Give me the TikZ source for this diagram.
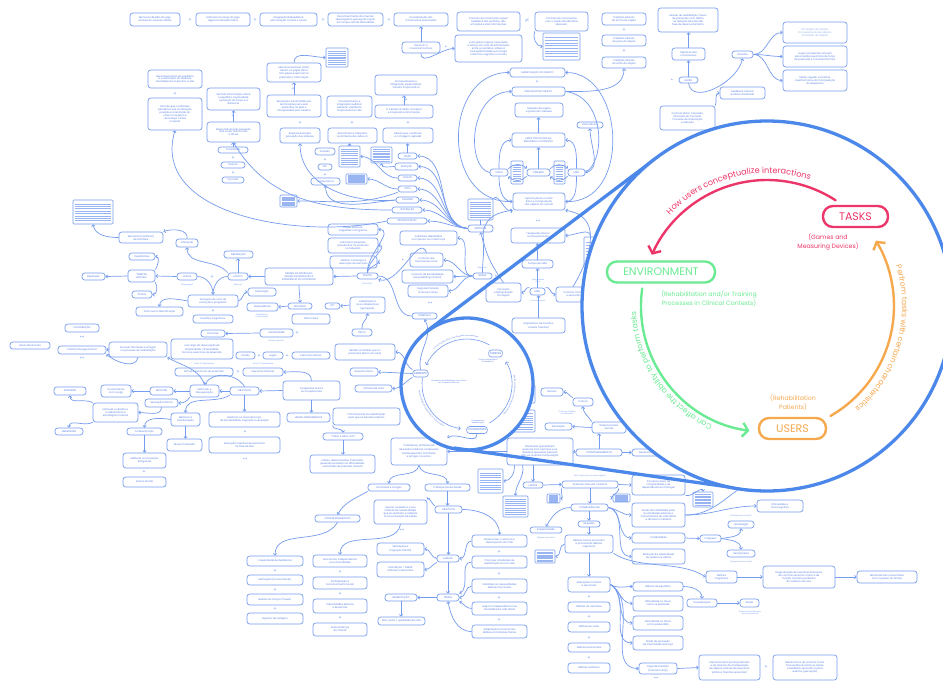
\documentclass[tikz,border=0pt]{standalone}
\usepackage{fontspec}
\setmainfont{Poppins}
\usetikzlibrary{arrows.meta,calc,decorations.text}

\definecolor{mmline}{RGB}{118,156,238}
\definecolor{mmtext}{RGB}{84,124,226}
\definecolor{lensblue}{RGB}{76,136,234}
\definecolor{taskpink}{RGB}{236,54,106}
\definecolor{envgreen}{RGB}{106,234,146}
\definecolor{userorange}{RGB}{246,168,78}

\tikzset{
  bx/.style={draw=mmline,line width=0.7pt,rounded corners=2.8pt,fill=white,
    inner sep=0.4pt,align=center,text=mmtext,font=\fontsize{2.5}{2.95}\selectfont},
  docbox/.style={draw=mmline,line width=0.6pt,rounded corners=1pt,fill=white,inner sep=0pt,
    path picture={\foreach \k in {0.16,0.26,0.36,0.46,0.56,0.66,0.76,0.86}{
      \draw[mmline!75,line width=0.35pt]
        ($(path picture bounding box.north west)!\k!(path picture bounding box.south west)+(1.6pt,0)$) --
        ($(path picture bounding box.north east)!\k!(path picture bounding box.south east)+(-1.6pt,0)$);}}},
  plus/.style={text=mmline,font=\fontsize{5}{5}\selectfont,inner sep=0pt},
  anno/.style={text=mmline,align=center,font=\fontsize{1.9}{2.3}\selectfont,inner sep=0pt},
  ln/.style={draw=mmline,line width=0.7pt},
  ar/.style={ln,-{Straight Barb[length=1.7pt,width=3.4pt]}},
  lens/.style={draw=lensblue,line width=3.3pt},
  keybox/.style={draw,rounded corners=10pt,line width=2.4pt,fill=white,minimum height=21pt,
    font=\fontsize{11}{11}\selectfont,inner sep=0pt},
  keyarc/.style={line width=2.4pt,line cap=round,-{Straight Barb[length=5.5pt,width=14pt]}},
  keynote/.style={align=center,font=\fontsize{6.2}{8.6}\selectfont,inner sep=0pt},
  minibox/.style={draw=mmline,line width=0.6pt,rounded corners=3pt,fill=white,minimum height=7pt,
    inner sep=1.2pt,text=mmtext,font=\fontsize{2.8}{2.8}\selectfont},
  miniarc/.style={draw=mmline,line width=0.6pt,-{Straight Barb[length=1.8pt,width=4pt]}},
  mininote/.style={align=center,text=mmtext,font=\fontsize{1.8}{2.2}\selectfont,inner sep=0pt},
}

% box by its corners (x1,y1) (x2,y2), y measured downwards
\newcommand\mmB[6]{\node[bx,minimum width={#4pt-#2pt},minimum height={#5pt-#3pt}] (#1) at ({(#2+#4)/2},{-(#3+#5)/2}) {#6};}
\newcommand\mmD[5]{\node[docbox,minimum width={#4pt-#2pt},minimum height={#5pt-#3pt}] (#1) at ({(#2+#4)/2},{-(#3+#5)/2}) {};}
\newcounter{mmpc}
\newcommand\mmP[2]{\stepcounter{mmpc}\node[plus] (plus\arabic{mmpc}) at (#1,-#2) {+};}
\newcommand\mmS[2]{\stepcounter{mmpc}\node[plus,font=\fontsize{4.6}{4.6}\selectfont] (star\arabic{mmpc}) at (#1,-#2) {**};}
\newcommand\mmO[2]{\stepcounter{mmpc}\node[plus,font=\fontsize{4.6}{4.6}\selectfont] (star\arabic{mmpc}) at (#1,-#2) {*};}
\newcommand\mmA[3]{\stepcounter{mmpc}\node[anno] (note\arabic{mmpc}) at (#1,-#2) {#3};}

\begin{document}
\begin{tikzpicture}[x=1pt,y=1pt]
\path[use as bounding box,fill=white] (0,0) rectangle (943,-681);

% ---------------- top row ----------------
\mmB{t1}{130}{13}{180}{26}{Mensurar desafio do jogo\\através do sucesso obtido}
\mmB{t2}{196}{13}{250}{26}{Estimular ao longo do jogo\\alguma interação física}
\mmB{t3}{260}{13}{317}{26}{Integração Biofeedback:\\estimulação motora e visual}
\mmB{t4}{328}{13}{383}{26}{Reconhecimento do nível de\\desempenho que ajuste o grau\\em tempo real de dificuldade}
\mmB{t5}{394}{13}{448}{26}{Consideração dos\\movimentos executados}
\mmP{190}{20}\mmP{255}{20}\mmP{323}{20}\mmP{389}{20}
\mmB{r1}{402}{42}{440}{53}{Recorrer a\\mecanismos fixos}
\mmO{446}{48}
\mmB{jz}{455}{35}{522}{62}{Juízo prévio regular, reconexão\\e reforço em vias de estimulação\\entre os sentidos, reflexo a\\neuroplasticidade e prolonga\\o domínio cognitivo no futuro}
\mmB{cm1}{457}{12}{520}{31}{Controlo de movimento requer\\feedback dos sentidos, das\\emoções e das informações}
\node[plus] (neq) at (527,-20) {$\neq$};
\mmB{cm2}{535}{12}{588}{31}{Controlo de movimentos\\com o auxílio da Memória\\Muscular}
\mmD{d1}{543}{33}{580}{60}
\mmB{mo}{510}{68}{565}{77}{MANIPULAÇÃO DO OBJETO}
\mmP{537}{82}
\mmB{po}{512}{87}{565}{96}{PERCEÇÃO DO OBJETO}
\mmB{dr}{515}{103}{563}{117}{Deteção de região\\e potencial interesse}
\mmB{pr1}{602}{13}{646}{25}{Predição através\\da forma do objeto}
\mmP{624}{30}
\mmB{pr2}{602}{35}{646}{46}{Predição através\\do peso do objeto}
\mmP{624}{51}
\mmB{pr3}{602}{57}{646}{68}{Predição através\\do atrito do objeto}
\mmB{se}{658}{8}{718}{32}{Sessão de reabilitação: fluxos\\de pacientes com défice\\na deteção de intenção\\fase de desenvolvimento}
\mmB{ob}{672}{48}{705}{60}{Objetivos dos\\movimentos}
\mmB{gu}{679}{77}{698}{83}{GUIÃO}
\mmO{672}{81}
\mmB{fi}{732}{51}{753}{58}{Filosofia}
\mmB{fb}{720}{87}{765}{99}{Feedback Visual e\\Auditivo Acelerado}
\mmB{f1}{783}{22}{847}{43}{\color{mmline!80}Simulação de objetos\\\color{mmline!80}Processamento de objetos\\\color{mmline!80}Avaliação de objetos}
\mmB{f2}{783}{46}{847}{67}{Jogos (ambientes virtuais)\\para realizar exercícios de força\\de preensão e movimentos finos}
\mmB{f3}{783}{70}{847}{91}{Medir, registar e analisar\\a performance da manipulação\\do dispositivo}
\mmB{cmo}{660}{106}{715}{130}{Controlo Motor, Preensão,\\Interação do Contexto,\\Processo de Orientação\\e Atenção}
\mmB{dom}{577}{122}{603}{128}{Dominância}
\mmB{fp}{512}{133}{565}{147}{FASES PSICOLÓGICAS,\\SENSORIAL E COGNITIVA}
\mmB{vi}{490}{169}{508}{176}{VISÃO}
\mmB{ce}{527}{169}{550}{176}{CÉREBRO}
\mmB{ma}{568}{169}{585}{176}{MÃO}
\mmD{d2}{511}{161}{523}{184}
\mmD{d3}{554}{161}{565}{184}
\mmB{ex}{513}{193}{565}{210}{Exploração do mundo\\físico e manipulação\\dos objetos do mundo}
\mmS{538}{222}
\mmB{tf}{511}{228}{565}{243}{Terapeutas Físicos\\ou Ocupacionais}
\mmB{tv}{522}{260}{553}{268}{Tempo de Vida}
\mmB{ma2}{530}{288}{545}{295}{MÃO}
\mmA{538}{281}{(Motricidade\\Fina)}
\mmA{538}{301}{(Coordenação)}
\mmB{pm}{486}{283}{521}{302}{Perceção\\e Manipulação\\do Objeto}
\mmB{cs}{556}{287}{590}{302}{Controlo motor\\e sensorial}
\mmB{dm}{512}{318}{565}{333}{Dispositivos de mundos\\virtuais (tarefas)}
\mmD{d4}{584}{237}{597}{268}

% ---------------- upper left cluster ----------------
\mmB{m1}{267}{63}{321}{82}{Mecanorrecetores (tato)\\atuam no papel tátil e\\têm papel essencial na\\preensão / informação}
\mmP{293}{89}
\mmB{m2}{267}{95}{321}{117}{Sensações transmitidas por\\terminações nervosas\\existentes na pele e\\interpretadas pelo cérebro}
\mmD{d5}{326}{48}{348}{67}
\mmB{m3}{327}{96}{372}{117}{Processamento e\\integração auditiva:\\Aferente, Vestibular,\\Propriocetiva e Tato}
\mmB{m4}{375}{75}{437}{95}{Processamento e\\integração visual efetiva:\\Visual e Propriocetiva}
\mmP{406}{100}
\mmB{m5}{375}{105}{433}{118}{O Cérebro analisa, compara\\e interpreta a informação}
\mmB{e1}{148}{70}{202}{88}{Reconhecimento do equilíbrio\\e a realização de diversas\\atividades do nosso dia-a-dia}
\mmP{175}{94}
\mmB{e2}{148}{98}{202}{130}{Permite que o indivíduo\\perceba a sua localização,\\posição e orientação do\\corpo no espaço e\\reconheça o fluxo\\corporal}
\mmB{e3}{207}{88}{260}{110}{Sentido informações sobre\\o equilíbrio, a gravidade,\\a posição do corpo e a\\distância}
\mmP{233}{116}
\mmB{e4}{207}{122}{260}{142}{Responsável pela perceção\\das cores, das formas\\e da luz}
\mmB{c1}{218}{147}{248}{153}{Tonalidade}
\mmP{233}{158}
\mmB{c2}{221}{162}{245}{168}{Textura}
\mmP{233}{173}
\mmB{c3}{222}{177}{244}{183}{Formato}
\mmB{s1}{280}{128}{320}{143}{Responsável pela\\perceção dos sabores}
\mmB{pe}{315}{148}{335}{155}{Pressão}
\mmP{325}{160}
\mmB{dor}{318}{164}{332}{170}{Dor}
\mmP{325}{175}
\mmB{tem}{311}{178}{340}{185}{Temperatura}
\mmB{s2}{328}{128}{377}{143}{Reconhece e interpreta\\os atributos de cada um}
\mmB{s3}{383}{128}{433}{143}{Deteta que o estímulo\\é a imagem captada}
\mmP{300}{123}\mmP{352}{123}\mmP{408}{123}
\mmD{d6}{339}{146}{360}{167}
\mmD{d7}{346}{174}{367}{184}
\mmD{d8}{371}{147}{392}{163}
\mmB{sv}{398}{153}{417}{159}{VISÃO}
\mmB{sa}{395}{163}{418}{170}{AUDIÇÃO}
\mmB{so}{398}{175}{417}{181}{OLFATO}
\mmB{st}{398}{186}{417}{192}{TATO}
\mmB{sp}{396}{197}{419}{203}{PALADAR}
\mmB{sve}{392}{207}{422}{213}{VESTIBULAR}
\mmB{spr}{387}{218}{427}{224}{PROPRIOCETIVO}
\mmB{sen}{468}{225}{493}{232}{SENTIDOS}
\mmD{d9}{468}{199}{493}{220}
\mmD{d10}{280}{195}{297}{207}

% ---------------- middle band ----------------
\mmB{to1}{328}{224}{378}{235}{Toque bilateral:\\sugestões com gestos}
\mmB{to2}{328}{238}{378}{253}{Estimula a preensão\\através dos movimentos\\no tabuleiro}
\mmB{to3}{330}{256}{377}{268}{Detetar a ameaça e\\execução de tremores}
\mmB{in1}{400}{231}{457}{245}{Indivíduos debilitados\\com pouca ou muita força}
\mmB{cf}{410}{253}{443}{267}{Controlo dos\\Movimentos Finos}
\mmO{403}{261}
\mmB{cg}{402}{270}{453}{283}{Controlo da Sensibilidade\\(Grip Stabling Control)}
\mmB{pg}{408}{285}{448}{297}{Pega de Precisão\\(Precision Grip)}
\mmS{430}{304}
\mmB{gr}{473}{273}{492}{279}{GRASP}
\mmA{482}{268}{(Agarrar)}
\mmO{496}{277}
\mmB{dg}{357}{273}{378}{279}{DIGITAL}
\mmA{367}{284}{(Ecrã tátil)}
\mmB{ds}{265}{268}{333}{285}{DESIGN DA INTERAÇÃO\\DESIGN DE INTERAÇÃO E\\EXPERIÊNCIA DO UTILIZADOR}
\mmB{inc}{288}{303}{312}{309}{INCLUSÃO}
\mmB{att}{325}{303}{340}{309}{ATT}
\mmB{ad}{350}{297}{385}{313}{Adaptação a\\novos dispositivos\\(gerações)}
\mmB{itf}{412}{313}{437}{319}{INTERFACE}
\mmB{tfx}{292}{314}{330}{324}{Tátil e Físico}
\mmB{fis}{352}{329}{372}{336}{FÍSICO}

% ---------------- left cluster ----------------
\mmD{db}{73}{200}{113}{224}
\mmB{el}{119}{232}{163}{243}{Elementos (Gráficos)\\de Interface}
\mmB{iz}{176}{239}{198}{247}{Interação}
\mmB{ab}{224}{251}{253}{258}{ABSTRAÇÃO}
\mmB{lu}{228}{273}{248}{280}{LÚDICO}
\mmA{238}{285}{(Brincar)}
\mmB{jo}{177}{273}{197}{280}{JOGOS}
\mmA{187}{285}{(Videojogos)}
\mmP{212}{277}
\mmB{tl}{128}{270}{155}{282}{"TAREFAS\\LÚDICAS"}
\mmB{de}{129}{253}{155}{260}{Desafiantes}
\mmB{po2}{132}{291}{152}{298}{Pontos}
\mmB{re}{82}{273}{105}{280}{Repetição}
\mmB{pc}{188}{295}{238}{307}{Perceção do ciclo de\\evolução e progresso}
\mmP{213}{311}
\mmB{dc}{193}{315}{233}{323}{Desafios Cognitivos}
\mmB{pi}{136}{307}{183}{316}{Promover a identificação}
\mmB{mt}{248}{288}{276}{296}{Motivação}
\mmB{rd}{247}{303}{278}{311}{Redundância}
\mmA{262}{316}{(Feedback e\\confirmação)}
\mmB{co}{65}{324}{99}{332}{COOPERAÇÃO}
\mmS{82}{338}
\mmB{pa}{58}{346}{106}{354}{Partilha Intergeracional}
\mmS{82}{359}
\mmB{gm}{10}{342}{50}{349}{Gerar Movimento}
\mmB{ef}{109}{342}{167}{357}{Envolver familiares e amigos\\no processo de reabilitação}
\mmB{esc}{201}{330}{225}{337}{ESCOLHA}
\mmB{ca}{171}{339}{233}{359}{com algo de observação de\\simplicidade / diversidade,\\torna os exercícios de preensão}
\mmB{ve}{260}{329}{293}{337}{Versatilidade}
\mmA{276}{341}{(Várias opções)}
\mmP{297}{333}
\mmB{ct}{236}{352}{255}{359}{Cartas}
\mmP{259}{356}
\mmB{jg}{263}{352}{283}{359}{Jogos}
\mmP{287}{356}
\mmB{exf}{292}{352}{330}{359}{Exercícios Físicos}
\mmA{204}{364}{(Fase 1) Objetividade}
\mmA{263}{364}{(Fase 2) Objetividade}
\mmB{fe}{175}{368}{233}{376}{Fichas e exercícios de preensão}
\mmP{238}{372}
\mmB{em}{243}{368}{283}{376}{Exercícios Motores}
\mmB{ap}{54}{387}{86}{395}{APRENDER}
\mmB{ej}{101}{385}{131}{397}{Envolvimento\\com o jogo}
\mmB{mv}{150}{387}{173}{395}{MOTIVAR}
\mmB{er}{190}{385}{219}{397}{Estimular e\\Recuperação}
\mmB{obj}{230}{387}{259}{395}{OBJETIVOS}
\mmB{tfi}{283}{381}{340}{400}{Terapeutas Físicos\\ou Ocupacionais}
\mmB{sm}{145}{399}{178}{407}{Sensação Motora}
\mmB{es}{93}{403}{138}{422}{Estimula o cérebro e\\o relaxamento e\\estratégias motoras}
\mmB{mm}{55}{428}{83}{435}{MEMORIZAR}
\mmB{mc}{171}{413}{200}{426}{Melhorar a\\coordenação}
\mmB{mvc}{167}{439}{202}{451}{Mover Conteúdo}
\mmB{fo}{127}{428}{162}{435}{Fortalecimento}
\mmB{mcs}{123}{453}{166}{468}{Melhorar a Circulação\\Sanguínea}
\mmP{144}{472}
\mmB{ea}{123}{477}{166}{487}{Evita a Atrofia}
\mmB{mn}{209}{412}{280}{427}{Melhorar os níveis de força,\\de sensibilidade, cognição e sensação}
\mmP{245}{432}
\mmB{ei}{209}{437}{280}{453}{Execução intensiva de exercícios\\na fase de alta}
\mmS{245}{460}
\mmB{lf}{287}{413}{330}{422}{LINHAS FUNDAMENTAIS}
\mmB{pr}{333}{408}{400}{425}{Primeira parte da reabilitação\\pelo que os estudos referem}
\mmB{tl2}{323}{433}{363}{440}{"Tratar e Lidar com"}
\mmB{fd}{310}{455}{375}{473}{Falhas, desenvolvidas, frustradas,\\pessoas percebem as dificuldades\\nas tarefas de precisão manual}
\mmB{rt}{335}{344}{395}{360}{Relatar as tarefas que os\\pacientes fazem em casa}
\mmB{dfi}{350}{368}{378}{376}{Desenho Físico}
\mmB{vv}{355}{385}{392}{392}{Variável de Vida}

% ---------------- bottom left column ----------------
\mmB{cr}{247}{556}{303}{566}{Capacidade de Resiliência}
\mmP{275}{571}
\mmB{mo2}{247}{575}{303}{585}{Motivação (Envolvimento)}
\mmP{275}{590}
\mmB{gt}{247}{594}{303}{605}{Gestão do Tempo (Pausa)}
\mmP{275}{609}
\mmB{sut}{247}{613}{303}{624}{Suporte Tecnológico}

% ---------------- bottom centre ----------------
\mmB{cp}{391}{438}{447}{465}{Cuidadores, profissionais\\de saúde (médicos, terapeutas,\\fisioterapeutas), familiares\\e amigos no centro}
\mmB{fa}{368}{484}{410}{491}{Familiares e Amigos}
\mmB{ps}{425}{484}{470}{491}{Profissionais de Saúde}
\mmB{cn}{315}{515}{360}{522}{CONSTRANGIMENTOS}
\mmB{aj}{374}{500}{427}{524}{Ajustar a sessão e o seu\\método às necessidades\\que se verificam e adaptar\\à nova situação de saúde}
\mmS{402}{531}
\mmB{ob2}{435}{506}{462}{513}{OBJETIVOS}
\mmB{au}{313}{555}{367}{567}{Autonomia, Independência\\e Funcionalidade}
\mmP{340}{572}
\mmB{pf}{313}{577}{367}{589}{Participação e\\Funcionamento Social}
\mmP{340}{594}
\mmB{cms}{313}{599}{367}{613}{Capacidades Motoras\\e Sensoriais}
\mmP{340}{618}
\mmB{acl}{313}{623}{367}{636}{Autoconfiança\\do Cliente}
\mmB{sc}{377}{543}{424}{555}{Sensações e\\Cognição (SPADI)}
\mmB{od}{377}{562}{424}{577}{Orientação = DMUS:\\Motores e Sensoriais}
\mmB{an}{437}{555}{459}{562}{ANÁLISE}
\mmB{tr}{437}{594}{459}{601}{TREINO}
\mmB{rb}{385}{594}{417}{601}{REABILITAÇÃO}
\mmB{bq}{378}{617}{425}{625}{Bem-estar / qualidade de vida}
\mmB{ds1}{472}{535}{527}{547}{Desenvolver o alcance e\\desempenho da mão}
\mmP{499}{552}
\mmB{ds2}{472}{556}{527}{568}{Promover atividades de\\reabilitação à nova vida}
\mmP{499}{574}
\mmB{ds3}{472}{579}{527}{593}{Satisfazer as necessidades\\básicas funcionais}
\mmP{499}{598}
\mmB{ds4}{472}{602}{527}{615}{Adquirir independência nas\\atividades da vida diária}
\mmP{499}{620}
\mmB{ds5}{472}{625}{527}{638}{Adaptação funcional aos\\défices e limitações físicas}

% ---------------- bottom right ----------------
\mmB{al}{507}{438}{573}{465}{Alterações que definem\\pessoas com tremores e os\\desafios que estas pessoas\\têm ao nível da manipulação}
\mmB{cn2}{576}{449}{622}{456}{CONSTRANGIMENTOS}
\mmB{dv}{632}{449}{668}{456}{Desenvolvimento}
\mmB{dts}{592}{422}{626}{433}{Determinantes\\Sociais}
\mmB{edu}{545}{423}{572}{430}{Educação}
\mmB{cul}{573}{398}{593}{406}{Cultura}
\mmB{gen}{541}{388}{563}{396}{Género}
\mmA{567}{413}{(Crenças, hábitos\\e costumes)}
\mmD{d11}{510}{385}{535}{403}
\mmD{d12}{510}{410}{535}{432}
\mmB{les}{523}{482}{543}{488}{LESÕES}
\mmB{avc}{562}{481}{618}{488}{Acidente Vascular Cerebral}
\mmA{590}{476}{(AVC isquémico ou hemorrágico)}
\mmB{pcx}{632}{475}{685}{495}{Principal causa de\\incapacidade e de\\dependência em Portugal}
\mmD{d13}{478}{469}{503}{493}
\mmD{d14}{503}{496}{528}{517}
\mmD{d15}{547}{494}{560}{503}
\mmD{d16}{613}{494}{630}{502}
\mmD{d17}{693}{492}{713}{507}
\mmB{csq}{571}{504}{608}{511}{CONSEQUÊNCIAS}
\mmB{esp}{530}{527}{562}{533}{Espasticidade}
\mmA{546}{538}{(Rigidez muscular)}
\mmB{seq}{578}{521}{600}{527}{Sequelas}
\mmB{dfs}{565}{535}{613}{553}{Défices Físicos provocam\\e provocarão défices\\cognitivos}
\mmD{d18}{535}{550}{555}{563}
\mmB{am}{568}{577}{610}{592}{Alterações motoras\\e sensoriais}
\mmP{589}{597}
\mmB{dme}{568}{602}{610}{612}{Défices de memória}
\mmP{589}{617}
\mmB{dvi}{568}{622}{610}{632}{Défices de visão}
\mmP{589}{638}
\mmB{dem}{568}{643}{610}{652}{Défices emocionais}
\mmP{589}{658}
\mmB{dau}{568}{663}{610}{673}{Défices auditivos}
\mmB{ph}{632}{503}{685}{527}{Perda de habilidades para\\as atividades básicas e\\instrumentais da vida diária\\e de fazer o trabalho}
\mmB{ins}{632}{533}{685}{543}{Instabilidade}
\mmB{fr}{700}{535}{721}{542}{Fraqueza}
\mmB{hp}{728}{521}{754}{528}{Hemiplegia}
\mmA{741}{516}{(Paralisia de um lado)}
\mmB{hs}{727}{550}{755}{557}{Hemiparesia}
\mmA{741}{562}{(Fraqueza de um lado)}
\mmB{rc}{632}{549}{685}{564}{Redução da capacidade\\de realizar os afetos}
\mmB{dd}{757}{500}{803}{512}{Dificuldade a\\nível cognitivo}
\mmB{dco}{706}{571}{737}{583}{Défices\\Cognitivos}
\mmB{dg2}{763}{566}{835}{588}{Degeneração de neurotransmissores\\de controlo sensório-motor e de\\função mental e periférica\\do sistema nervoso}
\mmB{mem}{857}{571}{917}{583}{Memórias são consumidas\\com o passar do tempo}
\mmB{deq}{633}{582}{683}{591}{Défices de equilíbrio}
\mmB{dt1}{633}{596}{683}{611}{Dificuldade no tónus\\como se pretende}
\mmB{dt2}{633}{616}{683}{630}{Dificuldade no tónus\\como pretendido}
\mmB{pp}{633}{636}{683}{650}{Perda de perceção\\da intensidade da força}
\mmB{coo}{687}{599}{717}{607}{Coordenação}
\mmB{ata}{740}{599}{759}{607}{Ataxia}
\mmA{750}{613}{(Falta de coordenação\\dos movimentos)}
\mmB{pgp}{639}{663}{677}{674}{Pega de Precisão\\(Precision Grip)}
\mmS{656}{679}
\mmB{ef2}{699}{655}{760}{680}{Exercícios de força de preensão\\e de alcance de manipulação\\de objetos através de exercícios\\práticos (tarefas sensoriais)}
\mmP{766}{667}
\mmB{mc2}{773}{655}{837}{680}{Mecanismos de controlo motor\\favorecidos durante as ações\\e feedback sensorial visual e\\auditivo (perceção)}

% ---------------- connectors ----------------
\draw[ar] (r1.north) -- (t5.south);
\draw[ar] (r1.south) to[out=-90,in=180] (jz.west);
\draw[ar] (cm2.south west) to[out=-110,in=180] (d1.west);
\draw[ar] (po.east) to[out=0,in=-90] (pr3.south);
\draw[ar] (ob.north) -- (ob.north |- se.south);
\draw[ar] (gu.north) -- (gu.north |- ob.south);
\draw[ar] (gu.south) to[out=-80,in=-100] (fi.south);
\draw[ar] (cmo.north east) to[out=70,in=180] (fb.west);
\foreach \n in {f1,f2,f3} \draw[ar] (fi.east) to[out=0,in=180] (\n.west);
\draw[ar] (ce.north) -- (ce.north |- fp.south);
\draw[ar] (fp.north) -- (fp.north |- dr.south);
\draw[ar] (vi.north) to[out=90,in=180] (fp.west);
\draw[ar] (ma.north) to[out=90,in=0] (fp.east);
\draw[ar] (ma.east) to[out=10,in=-90] (dom.south);
\draw[ar] (vi.north east) to[out=50,in=130] (ce.north west);
\draw[ar] (ce.south west) to[out=-130,in=-50] (vi.south east);
\draw[ar] (ce.north east) to[out=50,in=130] (ma.north west);
\draw[ar] (ma.south west) to[out=-130,in=-50] (ce.south east);
\draw[ar] (vi.south) to[out=-90,in=180] (ex.west);
\draw[ar] (ma.south) to[out=-90,in=0] (ex.east);
\draw[ar] (ex.west) .. controls (440,-205) and (442,-72) .. (mo.west);
\draw[ar] (vi.west) .. controls (466,-168) and (468,-92) .. (po.west);
\draw[ar] (ex.east) .. controls (632,-205) and (625,-72) .. (mo.east);
\draw[ar] (po.east) .. controls (605,-96) and (606,-160) .. (ma.east);
\draw[ar] (tv.north) -- (tv.north |- tf.south);
\draw[ar] (ma2.north) -- (ma2.north |- tv.south);
\draw[ar] (ma2.north west) to[out=150,in=0] (pm.east);
\draw[ar] (ma2.north east) to[out=30,in=180] (cs.west);
\draw[ar] (dm.north) -- (dm.north |- ma2.south);
\draw[ar] (pm.north) .. controls (480,-250) and (470,-215) .. (ex.south west);
\draw[ar] (cs.north) .. controls (595,-250) and (600,-215) .. (ex.south east);
\draw[ar] (d4.north) to[out=90,in=0] (tf.east);
\draw[ar] (m1.north) to[out=90,in=180] (d5.west);
\draw[ar] (m2.north) -- (m2.north |- m1.south);
\draw[ar] (m5.north) -- (m5.north |- m4.south);
\foreach \n in {sv,sa,so,st,sp,sve,spr} \draw[ar] (sen.west) to[out=175,in=0] (\n.east);
\draw[ln] (sen.north) -- (sen.north |- d9.south);
\draw[ar] (d9.north east) to[out=50,in=200] (ex.south west);
\draw[ar] (sv.north) -- (sv.north |- s3.south);
\draw[ar] (sa.west) to[out=180,in=-90] (d8.south);
\draw[ar] (so.west) to[out=180,in=0] (d6.east);
\draw[ar] (st.west) to[out=180,in=0] (d7.east);
\draw[ar] (sp.west) to[out=185,in=-90] (s1.south);
\draw[ar] (sp.west) to[out=185,in=-90] (tem.south);
\draw[ar] (d6.north) -- (d6.north |- s2.south);
\draw[ar] (sve.west) to[out=180,in=-60] (e4.south);
\draw[ar] (spr.west) .. controls (300,-240) and (150,-215) .. (e2.south);
\draw[ar] (st.south west) to[out=200,in=0] (d10.east);
\draw[ar] (e4.north) -- (e4.north |- e3.south);
\draw[ar] (c1.north) -- (c1.north |- e4.south);
\foreach \n in {in1,cf,cg,pg} \draw[ar] (gr.west) to[out=180,in=0] (\n.east);
\draw[ar] (gr.north) to[out=90,in=-70] (sen.south);
\draw[ar] (dg.west) -- (ds.east);
\foreach \n in {to1,to2,to3} \draw[ar] (dg.north) to[out=95,in=0] (\n.east);
\draw[ln] (dg.east) to[out=0,in=180] (itf.west);
\draw[ar] (ad.west) -- (att.east);
\draw[ar] (ds.south) to[out=-90,in=90] (inc.north);
\draw[ar] (fis.north) to[out=100,in=-90] (ad.south);
\draw[ar] (ds.west) -- (lu.east);
\draw[ar] (lu.north) -- (lu.north |- ab.south);
\draw[ar] (jo.west) -- (tl.east);
\draw[ar] (tl.north east) to[out=60,in=0] (de.east);
\draw[ar] (tl.south east) to[out=-60,in=0] (po2.east);
\draw[ar] (tl.west) -- (re.east);
\draw[ar] (jo.east) to[out=0,in=90] (pc.north);
\draw[ln] (lu.west) to[out=180,in=90] (pc.north);
\draw[ar] (pc.west) to[out=170,in=90] (pi.north);
\draw[ar] (pc.east) to[out=10,in=180] (mt.west);
\draw[ar] (lu.north west) to[out=130,in=-90] (iz.south);
\draw[ar] (iz.north) to[out=80,in=20] (el.north east);
\draw[ar] (el.west) to[out=180,in=-80] (db.south);
\draw[ar] (inc.west) -- (rd.east);
\draw[ar] (ve.west) -- (esc.east);
\draw[ar] (ef.west) -- (pa.east);
\draw[ar] (ef.south) to[out=-100,in=-40] (pa.south east);
\draw[ar] (er.north) to[out=110,in=-30] (ef.south east);
\draw[ar] (tfi.north) to[out=90,in=0] (em.east);
\draw[ar] (obj.north) to[out=120,in=60] (er.north);
\draw[ar] (er.west) -- (mv.east);
\draw[ar] (mv.west) -- (ej.east);
\draw[ar] (obj.west) -- (er.east);
\draw[ar] (tfi.west) -- (obj.east);
\draw[ar] (es.north west) to[out=150,in=-90] (ap.south);
\draw[ar] (es.south west) to[out=210,in=90] (mm.north);
\draw[ar] (sm.south) to[out=-90,in=0] (es.east);
\draw[ar] (er.south west) to[out=-120,in=0] (sm.east);
\draw[ar] (mc.west) to[out=170,in=90] (fo.north);
\draw[ar] (mc.south) -- (mc.south |- mvc.north);
\draw[ar] (fo.south) -- (fo.south |- mcs.north);
\draw[ar] (obj.south) -- (obj.south |- mn.north);
\draw[ar] (obj.south west) to[out=-150,in=90] (mc.north);
\draw[ar] (tfi.south) -- (tfi.south |- lf.north);
\draw[ar] (tl2.south) -- (tl2.south |- fd.north);
\draw[ar] (pr.south west) to[out=-110,in=90] (tl2.north);
\draw[ar] (cp.south) to[out=-100,in=90] (fa.north);
\draw[ar] (cp.south) to[out=-80,in=90] (ps.north);
\draw[ar] (ps.south) -- (ps.south |- ob2.north);
\draw[ar] (ob2.north west) to[out=150,in=60] (aj.north east);
\draw[ar] (ob2.south) -- (ob2.south |- an.north);
\draw[ar] (an.west) to[out=170,in=0] (sc.east);
\draw[ar] (an.south west) to[out=-150,in=0] (od.east);
\draw[ar] (an.south) -- (an.south |- tr.north);
\draw[ar] (tr.west) -- (rb.east);
\draw[ar] (rb.south) -- (rb.south |- bq.north);
\draw[ar] (ob2.east) to[out=0,in=90] (ds1.north);
\draw[ar] (ds1.west) to[out=180,in=0] (an.east);
\draw[ar] (ds2.west) to[out=180,in=30] (tr.north east);
\draw[ar] (ds3.west) to[out=180,in=0] (tr.east);
\draw[ar] (ds4.west) to[out=180,in=-30] (tr.south east);
\draw[ar] (ds5.west) to[out=180,in=-80] (tr.south);
\draw[ar] (aj.south) to[out=-100,in=90] (au.north);
\draw[ar] (fa.south west) to[out=-150,in=60] (cn.north);
\draw[ar] (cn.south) to[out=-120,in=90] (cr.north);
\draw[ar] (al.west) -- (cp.east);
\draw[ar] (al.east) -- (cn2.west);
\draw[ar] (cn2.north) -- (cn2.north |- dts.south);
\draw[ar] (dts.west) -- (edu.east);
\draw[ar] (dts.north west) to[out=120,in=-90] (cul.south);
\draw[ar] (cul.north west) to[out=150,in=0] (gen.east);
\draw[ar] (cn2.east) -- (dv.west);
\draw[ar] (les.north |- al.south) -- (les.north);
\draw[ar] ($(al.south west)+(8,0)$) to[out=-90,in=0] (d13.east);
\draw[ar] ($(al.south west)+(16,0)$) to[out=-80,in=90] (d14.north);
\draw[ar] (les.east) -- (avc.west);
\draw[ar] (avc.east) -- (pcx.west);
\draw[ar] (avc.south) -- (avc.south |- csq.north);
\draw[ar] (avc.south west) to[out=-120,in=0] (d15.east);
\draw[ar] (avc.south east) to[out=-60,in=180] (d16.west);
\draw[ar] (pcx.south east) to[out=-20,in=90] (d17.north);
\draw[ar] (csq.west) to[out=180,in=60] (esp.north);
\draw[ar] (seq.north |- csq.south) -- (seq.north);
\draw[ar] (seq.south) -- (seq.south |- dfs.north);
\draw[ar] (dfs.west) to[out=180,in=0] (d18.east);
\draw[ar] (dfs.south) -- (dfs.south |- am.north);
\foreach \n in {ph,ins,rc} \draw[ar] (csq.east) to[out=-10,in=180] (\n.west);
\draw[ar] (ph.east) to[out=0,in=180] (dd.west);
\coordinate (hidden) at (760,-478);
\draw[ar] (ph.east) to[out=0,in=-160] (hidden);
\draw[ar] (ins.east) -- (fr.west);
\draw[ar] (fr.east) to[out=10,in=-90] (hp.south);
\draw[ar] (fr.east) to[out=-10,in=90] (hs.north);
\draw[ar] (dfs.south east) .. controls (640,-570) and (680,-560) .. (dco.west);
\draw[ar] (dco.east) -- (dg2.west);
\draw[ar] (dg2.east) -- (mem.west);
\foreach \n in {deq,dt1,dt2,pp,pgp} \draw[ar] (am.east) to[out=-30,in=180] (\n.west);
\draw[ar] (deq.east) to[out=0,in=90] (coo.north);
\draw[ar] (coo.east) -- (ata.west);
\draw[ar] (pgp.east) -- (ef2.west);
\draw[ar] (cf.north) to[out=110,in=-20] (dg.south east);

% ---------------- small lens ----------------
\draw[draw=none,fill=white] (467,-384) circle[radius=66pt];
\begin{scope}[shift={(467,-384)}]
  \node[minibox] (mtar) at (28.5,30.5) {TAREFAS};
  \node[minibox] (mamb) at (-46.5,10.5) {AMBIENTE};
  \node[minibox] (mutil) at (10,-46) {UTILIZADORES};
  \node[mininote] (mntar) at (21,23) {(Jogos e Dispositivos\\de Medição)};
  \node[mininote] (mnamb) at (-18,2) {(Processos de Reabilitação e/ou Treino\\em Contextos Clínicos)};
  \node[mininote] (mnutil) at (11,-38) {(Pacientes em\\Reabilitação)};
  \coordinate (mpA) at (60:45);
  \coordinate (mgA) at (172:45);
  \coordinate (moA) at (300:45);
  \draw[miniarc] (mpA) arc[start angle=60,end angle=155,radius=45];
  \draw[miniarc] (mgA) arc[start angle=172,end angle=262,radius=45];
  \draw[miniarc] (moA) arc[start angle=300,end angle=390,radius=45];
  \path[decorate,decoration={text along path,text align=center,
    text={|\color{mmtext}\fontsize{1.9}{1.9}\selectfont|Como os utilizadores concetualizam as interações}}]
    (150:47.5) arc[start angle=150,end angle=60,radius=47.5];
  \path[decorate,decoration={text along path,text align=center,
    text={|\color{mmtext}\fontsize{1.9}{1.9}\selectfont|Podem afetar a capacidade de realizar tarefas}}]
    (258:47.5) arc[start angle=258,end angle=172,radius=47.5];
  \path[decorate,decoration={text along path,text align=center,
    text={|\color{mmtext}\fontsize{1.9}{1.9}\selectfont|Realizam tarefas com certas características}}]
    (28:47.5) arc[start angle=28,end angle=-58,radius=47.5];
\end{scope}
\draw[ar] (mamb.west) -- (dfi.east);
\draw[ar] (mamb.north west) to[out=150,in=0] (rt.east);
\draw[ar] (mamb.south west) to[out=210,in=0] (vv.east);
\draw[ar] (mutil.south) to[out=-90,in=30] (cp.north east);
\draw[ar] (mamb.north) to[out=100,in=-60] (itf.south);

% ---------------- lens outlines and connecting lines ----------------
\draw[lens] (467,-384) circle[radius=66pt];
\coordinate (tanA1) at (427,-331);
\coordinate (tanA2) at (655,-159);
\coordinate (tanB1) at (454,-448);
\coordinate (tanB2) at (750,-490);
\draw[lens] (tanA1) -- (tanA2);
\draw[lens] (tanB1) -- (tanB2);
\draw[lens,fill=white] (767,-306) circle[radius=185pt];

% ---------------- magnified diagram ----------------
\begin{scope}[shift={(767,-306)}]
  \node[keybox,draw=taskpink,text=taskpink,minimum width=65pt] (tasks) at (88.5,89.5) {TASKS};
  \node[keybox,draw=envgreen,text=envgreen,minimum width=108pt] (env) at (-106,34) {ENVIRONMENT};
  \node[keybox,draw=userorange,text=userorange,minimum width=67pt] (users) at (25.5,-122.5) {USERS};
  \node[keynote,text=taskpink] (tasksnote) at (61,64) {(Games and\\Measuring Devices)};
  \node[keynote,text=envgreen] (envnote) at (-58,7.5) {(Rehabilitation and/or Training\\Processes in Clinical Contexts)};
  \node[keynote,text=userorange] (usersnote) at (26,-96.5) {(Rehabilitation\\Patients)};
  \coordinate (pinkA) at (57:126);
  \coordinate (greenA) at (172:126);
  \coordinate (orangeA) at (300:127);
  \draw[keyarc,taskpink] (pinkA) arc[start angle=57,end angle=156,radius=126];
  \draw[keyarc,envgreen] (greenA) arc[start angle=172,end angle=262,radius=126];
  \draw[keyarc,userorange] (orangeA) arc[start angle=300,end angle=391,radius=127];
  \path[decorate,decoration={text along path,text align=center,
    text={|\color{taskpink}\fontsize{8.2}{8.2}\selectfont|How users conceptualize interactions}}]
    (150:133) arc[start angle=150,end angle=58,radius=133];
  \path[decorate,decoration={text along path,text align=center,
    text={|\color{userorange}\fontsize{7.6}{7.6}\selectfont|Perfrom tasks with certain characteristics}}]
    (28:135) arc[start angle=28,end angle=-60,radius=135];
  \path[decorate,decoration={text along path,text align=center,
    text={|\color{envgreen}\fontsize{7.6}{7.6}\selectfont|Can affect the ability to perform tasks}}]
    (258:131) arc[start angle=258,end angle=170,radius=131];
\end{scope}
\end{tikzpicture}
\end{document}
